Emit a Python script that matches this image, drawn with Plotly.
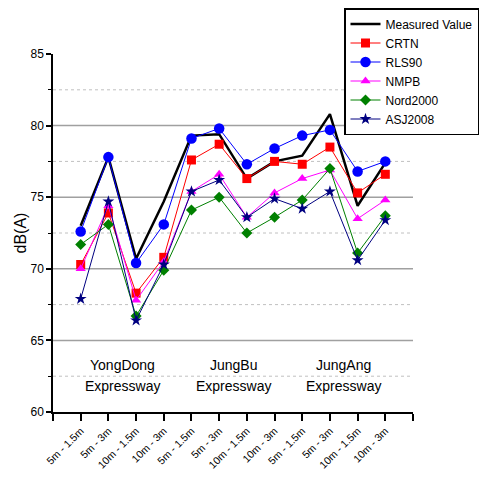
import plotly.graph_objects as go

categories = ["5m - 1.5m", "5m - 3m", "10m - 1.5m", "10m - 3m",
              "5m - 1.5m", "5m - 3m", "10m - 1.5m", "10m - 3m",
              "5m - 1.5m", "5m - 3m", "10m - 1.5m", "10m - 3m"]
group_names = ["YongDong", "JungBu", "JungAng"]
group_suffix = "Expressway"
group_centers = [1.5, 5.5, 9.5]

measured = [73.0, 77.8, 70.7, 74.7, 79.3, 79.4, 76.3, 77.5, 77.9, 80.8, 74.4, 77.4]
crtn = [70.3, 73.9, 68.3, 70.8, 77.6, 78.7, 76.3, 77.5, 77.3, 78.5, 75.3, 76.6]
rls90 = [72.6, 77.8, 70.4, 73.1, 79.1, 79.8, 77.3, 78.4, 79.3, 79.7, 76.8, 77.5]
nmpb = [70.0, 74.4, 67.8, 70.5, 75.4, 76.6, 73.6, 75.3, 76.3, 76.9, 73.5, 74.8]
nord2000 = [71.7, 73.1, 66.7, 69.9, 74.1, 75.0, 72.5, 73.6, 74.8, 77.0, 71.1, 73.7]
asj2008 = [67.9, 74.7, 66.4, 70.3, 75.4, 76.2, 73.6, 74.9, 74.2, 75.4, 70.6, 73.4]

major_grid = [65, 70, 75, 80]
minor_grid = [62.5, 67.5, 72.5, 77.5, 82.5]

FONT = "Liberation Sans, Arial, sans-serif"
x = list(range(len(categories)))

fig = go.Figure()
fig.add_trace(go.Scatter(x=x, y=measured, name="Measured Value", mode="lines",
                         line=dict(color="black", width=2.5)))
series = [
    ("CRTN", crtn, "#ff0000", "square", 9),
    ("RLS90", rls90, "#0000ff", "circle", 10.5),
    ("NMPB", nmpb, "#ff00ff", "triangle-up", 9),
    ("Nord2000", nord2000, "#008000", "diamond", 8.5),
    ("ASJ2008", asj2008, "#000080", "star", 9),
]
for name, vals, color, sym, size in series:
    fig.add_trace(go.Scatter(x=x, y=vals, name=name, mode="lines+markers",
                             line=dict(color=color, width=1),
                             marker=dict(symbol=sym, size=size, color=color,
                                         line=dict(width=0))))

for g in major_grid:
    fig.add_shape(type="line", xref="paper", x0=0, x1=1, yref="y", y0=g, y1=g,
                  line=dict(color="#a0a0a0", width=1.5), layer="below")
for g in minor_grid:
    fig.add_shape(type="line", xref="paper", x0=0, x1=1, yref="y", y0=g, y1=g,
                  line=dict(color="#c0c0c0", width=1, dash="dot"), layer="below")

for name, cx in zip(group_names, group_centers):
    fig.add_annotation(x=cx, y=62.5, text=name, showarrow=False,
                       font=dict(family=FONT, size=14, color="black"),
                       yanchor="bottom", yshift=1)
    fig.add_annotation(x=cx, y=62.5, text=group_suffix, showarrow=False,
                       font=dict(family=FONT, size=14, color="black"),
                       yanchor="top", yshift=0)

# page body has an 8px margin, so the figure is drawn 8px smaller and offset
fig.update_layout(
    width=481, height=482,
    margin=dict(l=45, r=76, t=46, b=78, autoexpand=False),
    plot_bgcolor="white", paper_bgcolor="white",
    font=dict(family=FONT, color="black"),
    showlegend=True,
    legend=dict(x=(344 - 53) / 360, y=(412 - 8) / 358,
                xanchor="left", yanchor="top",
                bordercolor="black", borderwidth=1.5, bgcolor="white",
                font=dict(family=FONT, size=12, color="black"),
                tracegroupgap=0, itemsizing="trace"),
    xaxis=dict(range=[-1, 12], tickmode="array",
               tickvals=list(range(-1, 13)),
               ticktext=[""] + categories + [""],
               tickangle=-45, ticks="outside", ticklen=7, tickwidth=1.5,
               tickcolor="black", showline=True, linecolor="black", linewidth=1.5,
               showgrid=False, zeroline=False, automargin=False,
               tickfont=dict(family=FONT, size=10.5)),
    yaxis=dict(range=[60, 85], tickmode="array", tickvals=[60, 65, 70, 75, 80, 85],
               ticks="outside", ticklen=5, tickwidth=1.5, tickcolor="black",
               minor=dict(tickvals=minor_grid, ticks="outside", ticklen=3,
                          tickwidth=1, tickcolor="black", showgrid=False),
               showline=True, linecolor="black", linewidth=1.5,
               showgrid=False, zeroline=False, automargin=False,
               tickfont=dict(family=FONT, size=12),
               title=dict(text="dB(A)", font=dict(family=FONT, size=16), standoff=0)),
)

fig.write_html("out.html")
